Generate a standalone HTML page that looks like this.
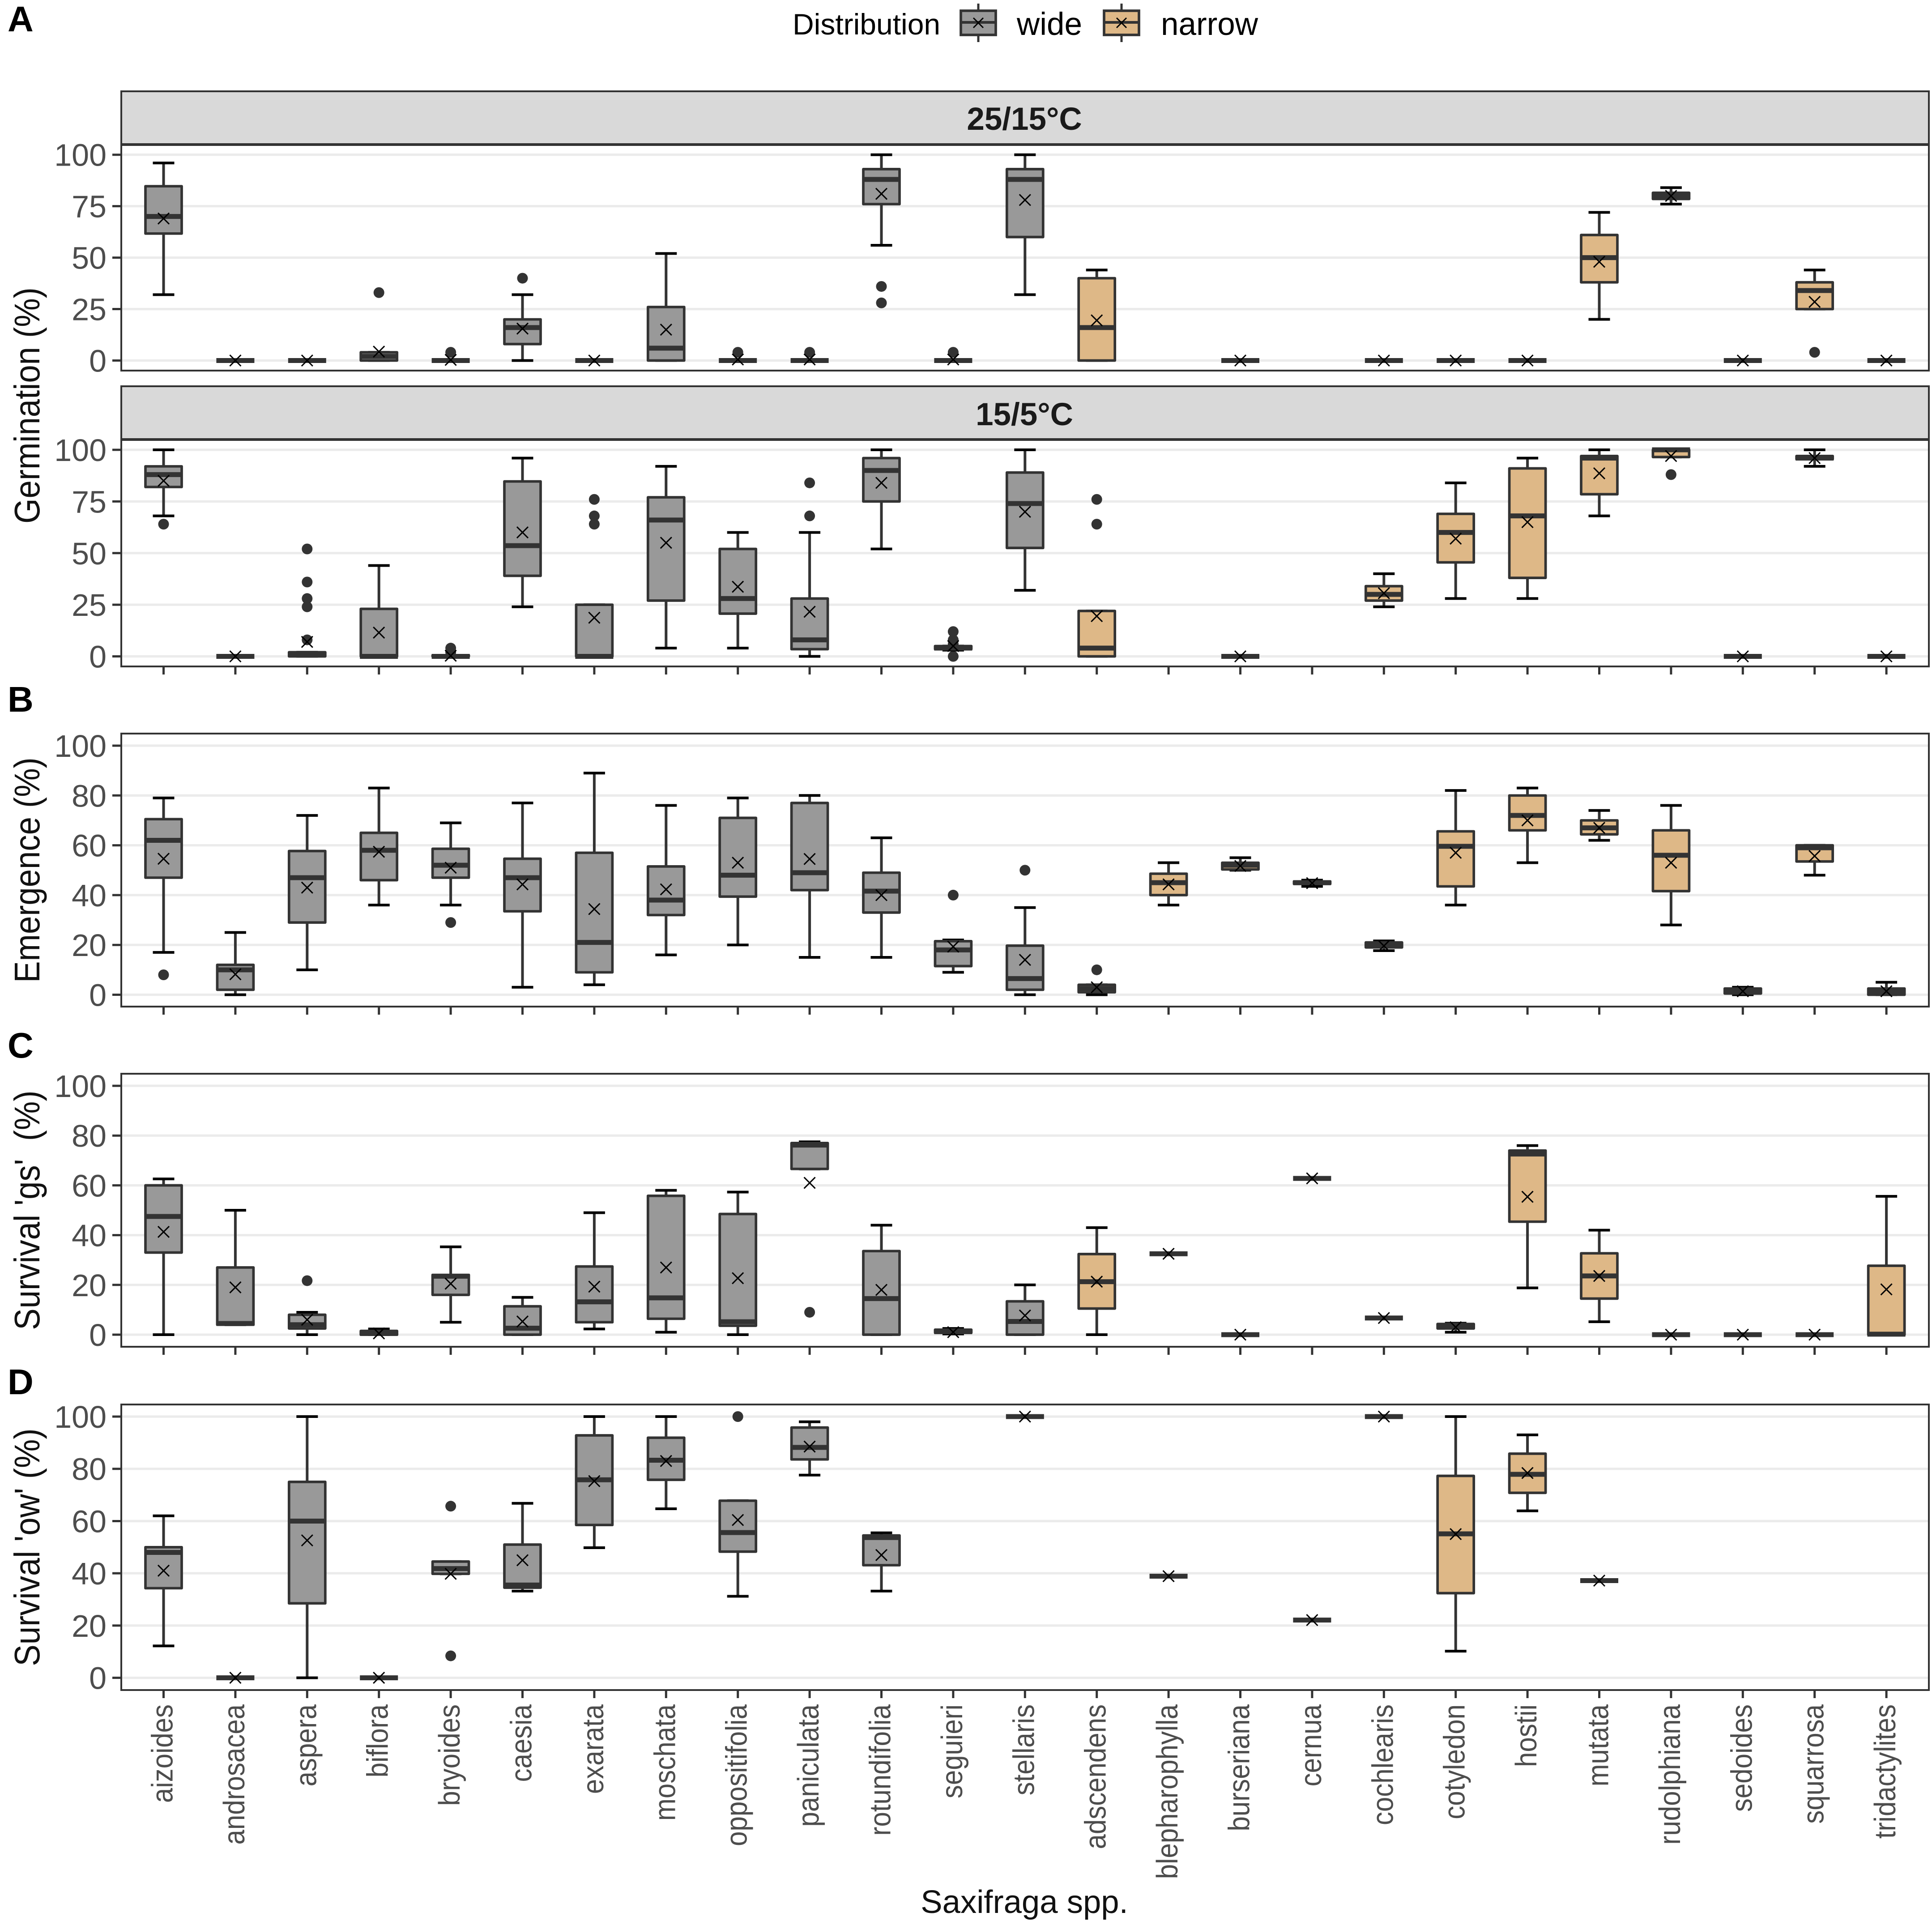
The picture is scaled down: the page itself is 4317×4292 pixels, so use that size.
<!DOCTYPE html>
<html lang="en">
<head>
<meta charset="utf-8">
<title>Saxifraga germination, emergence and survival</title>
<style>
html,body{margin:0;padding:0;background:#fff;}
svg{display:block;font-family:"Liberation Sans",sans-serif;}
.strip{fill:#d9d9d9;stroke:#333;stroke-width:4;}
.strip-base{stroke:#333;stroke-width:6;}
.border{fill:none;stroke:#333;stroke-width:4;}
.strip-text{font-size:71px;font-weight:bold;fill:#1a1a1a;text-anchor:middle;}
.axis-title{font-size:72.5px;fill:#111;text-anchor:middle;white-space:pre;}
.letter{font-size:80px;font-weight:bold;fill:#000;}
.legend-text{fill:#000;}
.tick-y{font-size:70px;fill:#4d4d4d;text-anchor:end;}
.tick-x{font-size:60px;fill:#4d4d4d;text-anchor:end;}
</style>
</head>
<body>
<svg xmlns="http://www.w3.org/2000/svg" width="4317" height="4292" viewBox="0 0 4317 4292">
  <rect x="0" y="0" width="4317" height="4292" fill="#fff"/>

  <g id="plot-germ25"></g>
  <g id="plot-germ15"></g>
  <g id="plot-emerge"></g>
  <g id="plot-gs"></g>
  <g id="plot-ow"></g>

  <rect class="strip" x="271" y="204" width="4039" height="119"/>
  <text class="strip-text" x="2289" y="290">25/15°C</text>
  <rect class="border" x="271" y="323" width="4039" height="505"/>
  <line class="strip-base" x1="271" x2="4310" y1="323" y2="323"/>

  <rect class="strip" x="271" y="863" width="4039" height="119"/>
  <text class="strip-text" x="2289" y="950">15/5°C</text>
  <rect class="border" x="271" y="982" width="4039" height="507"/>
  <line class="strip-base" x1="271" x2="4310" y1="982" y2="982"/>

  <rect class="border" x="271" y="1639" width="4039" height="610"/>
  <rect class="border" x="271" y="2399" width="4039" height="610"/>
  <rect class="border" x="271" y="3138" width="4039" height="638"/>

  <text class="letter" x="17" y="70">A</text>
  <text class="letter" x="17" y="1590">B</text>
  <text class="letter" x="17" y="2363">C</text>
  <text class="letter" x="17" y="3115">D</text>

  <text class="axis-title" transform="translate(88,906) rotate(-90) scale(1,1.1)">Germination (%)</text>
  <text class="axis-title" transform="translate(88,1944) rotate(-90) scale(1,1.1)">Emergence (%)</text>
  <text class="axis-title" xml:space="preserve" transform="translate(88,2704) rotate(-90) scale(1,1.1)">Survival 'gs'  (%)</text>
  <text class="axis-title" transform="translate(88,3457) rotate(-90) scale(1,1.1)">Survival 'ow' (%)</text>
  <text class="axis-title" x="2289" y="4274">Saxifraga spp.</text>

  <g>
    <text class="legend-text" x="1771" y="77" font-size="66">Distribution</text>
    <g>
      <line x1="2186" x2="2186" y1="8" y2="94" stroke="#333" stroke-width="5"/>
      <rect x="2147" y="24" width="78" height="54" fill="#999999" stroke="#333" stroke-width="5.7"/>
      <line x1="2147" x2="2225" y1="50" y2="50" stroke="#333" stroke-width="6"/>
      <path d="M2175 40L2197 62M2197 40L2175 62" stroke="#000" stroke-width="3" fill="none"/>
      <text class="legend-text" x="2272" y="78" font-size="71">wide</text>
    </g>
    <g>
      <line x1="2506" x2="2506" y1="8" y2="94" stroke="#333" stroke-width="5"/>
      <rect x="2467" y="24" width="78" height="54" fill="#deb887" stroke="#333" stroke-width="5.7"/>
      <line x1="2467" x2="2545" y1="50" y2="50" stroke="#333" stroke-width="6"/>
      <path d="M2495 40L2517 62M2517 40L2495 62" stroke="#000" stroke-width="3" fill="none"/>
      <text class="legend-text" x="2594" y="78" font-size="71">narrow</text>
    </g>
  </g>
</svg>

<script>
const species = ["aizoides","androsacea","aspera","biflora","bryoides","caesia","exarata","moschata","oppositifolia","paniculata","rotundifolia","seguieri","stellaris","adscendens","blepharophylla","burseriana","cernua","cochlearis","cotyledon","hostii","mutata","rudolphiana","sedoides","squarrosa","tridactylites"];
const distribution = ["wide","wide","wide","wide","wide","wide","wide","wide","wide","wide","wide","wide","wide","narrow","narrow","narrow","narrow","narrow","narrow","narrow","narrow","narrow","narrow","narrow","narrow"];
const germinationTicks = [0,25,50,75,100];
const percentTicks = [0,20,40,60,80,100];

const germ25Low = [32,0,0,0,0,0,0,0,0,0,56,0,32,0,null,0,null,0,0,0,20,76,0,25,0];
const germ25Q1 = [61.7,0,0,0,0,8,0,0,0,0,76,0,60,0,null,0,null,0,0,0,38,78.5,0,25,0];
const germ25Median = [70,0,0,2,0,16,0,6,0,0,88,0,88,16,null,0,null,0,0,0,50,80,0,34,0];
const germ25Q3 = [84.7,0,0,4,0,20,0,26,0,0,93,0,93,40,null,0,null,0,0,0,61,81.5,0,38,0];
const germ25High = [96,0,0,4,0,32,0,52,0,0,100,0,100,44,null,0,null,0,0,0,72,84,0,44,0];
const germ25Mean = [69,0,0,4.3,0.3,15.5,0,15,0.5,0.5,81,0.5,78,19.5,null,0,null,0,0,0,48,80,0,28.5,0];
const germ25Outliers = [[],[],[],[33],[4],[40],[],[],[4],[4],[36,28],[4],[],[],[],[],[],[],[],[],[],[],[],[4],[]];

const germ15Low = [68,0,0,0,0,24,0,4,4,0,52,3,32,0,null,0,null,24,28,28,68,96.5,0,92,0];
const germ15Q1 = [82,0,0,0,0,39,0,27,20.7,3.5,75,3.5,52.5,0,null,0,null,27,45.5,38,78.5,96.5,0,95.5,0];
const germ15Median = [88,0,1,0,0,53.6,0,66,28,8,90,4,74,4,null,0,null,30,60,68,96,100,0,96,0];
const germ15Q3 = [92,0,2,23,0.5,84.7,25,77,52,28,96,5,89,22,null,0,null,34,69,91,97,100,0,97,0];
const germ15High = [100,0,2,44,0.5,96,25,92,60,60,100,5,100,22,null,0,null,40,84,96,100,100,0,100,0];
const germ15Mean = [85,0,7,11.5,0.3,60,18.7,55,33.7,21.6,84,5,70,19.5,null,0,null,30.6,57,65,88.6,97,0,96,0];
const germ15Outliers = [[64],[],[52,36,28,24,8],[],[4,2],[],[76,68,64],[],[],[84,68],[],[12,8,6,0],[],[76,64],[],[],[],[],[],[],[],[88],[],[],[]];

const emergeLow = [17,0,10,36,36,3,4,16,20,15,15,9,0,0,36,50,43.5,17.7,36,53,62,28,0,48,0];
const emergeQ1 = [47,2,29,46,47,33.5,9,32,39.4,42,33,11.5,2,1,40,50.3,44.5,19,43.5,66,64.4,41.6,0.5,53.5,0];
const emergeMedian = [62,10,47,58,52,47,21,38,48,49,41.6,18,6.5,2.5,45,52,45,20,59.6,72,67,56,1.5,59,1];
const emergeQ3 = [70.5,12,57.7,65,58.6,54.6,57,51.5,71,77,49,21.5,19.7,4,48.6,53,45.5,21,65.6,80,70,66,2.5,60,2.5];
const emergeHigh = [79,25,72,83,69,77,89,76,79,80,63,22,35,4,53,55,46,21.6,82,83,74,76,3,60,5];
const emergeMean = [54.6,8.2,43,57.4,51,44.3,34.4,42.3,53,54.5,40,19.3,14,3,44.3,51.7,44.8,19.6,57,70,67,53,1.4,55.7,1.4];
const emergeOutliers = [[8],[],[],[],[29],[],[],[],[],[],[],[40],[50],[10],[],[],[],[],[],[],[],[],[],[],[]];

const gsLow = [0,4,0,0,5,0,2.3,1,0,66.6,0,0.3,0,0,32.5,0,62.8,6.7,1,18.8,5.2,0,0,0,0];
const gsQ1 = [33,4,2.5,0,16,0,5,6.4,3.6,66.6,0,0.8,0,10.5,32.5,0,62.8,6.7,2.5,45.4,14.5,0,0,0,0];
const gsMedian = [47.5,4.5,4,0.5,23.5,2.6,13.2,14.8,5.2,76.2,14.5,1.2,5.3,21.3,32.5,0,62.8,6.7,3.2,72.6,23.6,0,0,0,0.2];
const gsQ3 = [60,27,8,1.5,24,11.4,27.4,55.8,48.5,77,33.6,2,13.4,32.4,32.5,0,62.8,6.7,4.3,74,32.7,0,0,0,27.7];
const gsHigh = [62.6,50,9,2.3,35.3,15,49,58,57.3,77.5,44,2.5,20,43,32.5,0,62.8,6.7,4.6,76,42,0,0,0,55.6];
const gsMean = [41.3,19,6,0.5,20.5,5.3,19.3,27,22.7,61,18,1,7.7,21.3,32.5,0,62.8,6.7,3,55.4,23.6,0,0,0,18.2];
const gsOutliers = [[],[],[21.7],[],[],[],[],[],[],[9],[],[],[],[],[],[],[],[],[],[],[],[],[],[],[]];

const owLow = [12.2,0,0,0,39.8,33.2,49.8,64.7,31.2,77.6,33.2,null,100,null,38.9,null,22.1,100,10.2,63.9,37.2,null,null,null,null];
const owQ1 = [34.3,0,28.5,0,39.8,34.5,58.5,75.8,48.3,83.6,43.1,null,100,null,38.9,null,22.1,100,32.4,70.8,37.2,null,null,null,null];
const owMedian = [48,0,60,0,41.8,35.5,75.8,83.3,55.6,88.2,53.7,null,100,null,38.9,null,22.1,100,55.1,77.9,37.2,null,null,null,null];
const owQ3 = [50,0,75,0,44.5,51,92.8,91.9,67.8,95.8,54.5,null,100,null,38.9,null,22.1,100,77.3,85.8,37.2,null,null,null,null];
const owHigh = [62,0,100,0,44.5,66.8,100,100,67.8,98,55.5,null,100,null,38.9,null,22.1,100,100,93,37.2,null,null,null,null];
const owMean = [41,0,52.6,0,39.8,45,75.3,83,60.4,88.5,47,null,100,null,38.9,null,22.1,100,55,78.4,37.2,null,null,null,null];
const owOutliers = [[],[],[],[],[65.7,8.4],[],[],[],[100],[],[],[],[],[],[],[],[],[],[],[],[],[],[],[],[]];

const NS = "http://www.w3.org/2000/svg";
const fills = {wide:"#999999", narrow:"#deb887"};
const xStart = 365.5, xStep = 160.4, panelLeft = 271, panelRight = 4310;
const xScale = function (i) { return xStart + i * xStep; };

const panels = [
  {key:"germ25", groupId:"plot-germ25", yTop:345.7, yZero:805.5, bottom:828, ticks:germinationTicks, xTicks:false, low:germ25Low, q1:germ25Q1, median:germ25Median, q3:germ25Q3, high:germ25High, mean:germ25Mean, outliers:germ25Outliers},
  {key:"germ15", groupId:"plot-germ15", yTop:1005, yZero:1466.5, bottom:1489, ticks:germinationTicks, xTicks:true, low:germ15Low, q1:germ15Q1, median:germ15Median, q3:germ15Q3, high:germ15High, mean:germ15Mean, outliers:germ15Outliers},
  {key:"emergence", groupId:"plot-emerge", yTop:1666, yZero:2222.5, bottom:2249, ticks:percentTicks, xTicks:true, low:emergeLow, q1:emergeQ1, median:emergeMedian, q3:emergeQ3, high:emergeHigh, mean:emergeMean, outliers:emergeOutliers},
  {key:"survival-gs", groupId:"plot-gs", yTop:2426, yZero:2982, bottom:3009, ticks:percentTicks, xTicks:true, low:gsLow, q1:gsQ1, median:gsMedian, q3:gsQ3, high:gsHigh, mean:gsMean, outliers:gsOutliers},
  {key:"survival-ow", groupId:"plot-ow", yTop:3165, yZero:3748.6, bottom:3776, ticks:percentTicks, xTicks:true, low:owLow, q1:owQ1, median:owMedian, q3:owQ3, high:owHigh, mean:owMean, outliers:owOutliers}
];

function makeLine(x1, y1, x2, y2, color, width) {
  const el = document.createElementNS(NS, "line");
  el.setAttribute("x1", x1);
  el.setAttribute("y1", y1);
  el.setAttribute("x2", x2);
  el.setAttribute("y2", y2);
  el.setAttribute("stroke", color);
  el.setAttribute("stroke-width", width);
  return el;
}

function drawAxes(panel, parent, yScale) {
  panel.ticks.forEach(function (t) {
    const grid = makeLine(panelLeft, yScale(t), panelRight, yScale(t), "#ebebeb", 5.3);
    
    
    parent.appendChild(grid);

    const tick = makeLine(251, yScale(t), panelLeft, yScale(t), "#333", 5);
    
    
    parent.appendChild(tick);

    const label = document.createElementNS(NS, "text");
    label.setAttribute("class", "tick-y");
    label.setAttribute("x", 238);
    label.setAttribute("y", yScale(t) + 25);
    label.textContent = String(t);
    
    
    parent.appendChild(label);
  });
  if (panel.xTicks) {
    species.forEach(function (s, i) {
      const tick = makeLine(xScale(i), panel.bottom, xScale(i), panel.bottom + 18, "#333", 5);
      
      
      parent.appendChild(tick);
    });
  }
}

function drawSpecies(panel, parent, yScale, i) {
  if (panel.low[i] === null) return;
  const cx = xScale(i);
  const boxHalf = 40.5, capHalf = 24, crossHalf = 12.5;

  panel.outliers[i].forEach(function (v) {
    const dot = document.createElementNS(NS, "circle");
    dot.setAttribute("cx", cx);
    dot.setAttribute("cy", yScale(v));
    dot.setAttribute("r", 12);
    dot.setAttribute("fill", "#333");
    
    
    parent.appendChild(dot);
  });

  const whisker = makeLine(cx, yScale(panel.low[i]), cx, yScale(panel.high[i]), "#333", 6);
  
  
  parent.appendChild(whisker);

  const capLow = makeLine(cx - capHalf, yScale(panel.low[i]), cx + capHalf, yScale(panel.low[i]), "#000", 6);
  
  
  parent.appendChild(capLow);

  const capHigh = makeLine(cx - capHalf, yScale(panel.high[i]), cx + capHalf, yScale(panel.high[i]), "#000", 6);
  
  
  parent.appendChild(capHigh);

  const box = document.createElementNS(NS, "rect");
  box.setAttribute("x", cx - boxHalf);
  box.setAttribute("y", yScale(panel.q3[i]));
  box.setAttribute("width", boxHalf * 2);
  box.setAttribute("height", Math.max(0, yScale(panel.q1[i]) - yScale(panel.q3[i])));
  box.setAttribute("fill", fills[distribution[i]]);
  box.setAttribute("stroke", "#333");
  box.setAttribute("stroke-width", 5.7);
  box.setAttribute("stroke-linejoin", "round");
  
  
  parent.appendChild(box);

  const med = makeLine(cx - boxHalf - 2, yScale(panel.median[i]), cx + boxHalf + 2, yScale(panel.median[i]), "#333", 11);
  
  
  parent.appendChild(med);

  const my = yScale(panel.mean[i]);
  const a = makeLine(cx - crossHalf, my - crossHalf, cx + crossHalf, my + crossHalf, "#000", 3);
  
  
  parent.appendChild(a);

  const b = makeLine(cx - crossHalf, my + crossHalf, cx + crossHalf, my - crossHalf, "#000", 3);
  
  
  parent.appendChild(b);
}

panels.forEach(function (panel) {
  const parent = document.getElementById(panel.groupId);
  const yScale = function (v) { return panel.yZero + (panel.yTop - panel.yZero) * v / 100; };
  drawAxes(panel, parent, yScale);
  species.forEach(function (s, i) { drawSpecies(panel, parent, yScale, i); });
});

const root = document.querySelector("svg");
species.forEach(function (s, i) {
  const label = document.createElementNS(NS, "text");
  label.setAttribute("class", "tick-x");
  label.setAttribute("transform", "translate(" + (xScale(i) + 20) + ",3808) rotate(-90) scale(1,1.12)");
  label.textContent = s;
  
  
  root.appendChild(label);
});
</script>
</body>
</html>
